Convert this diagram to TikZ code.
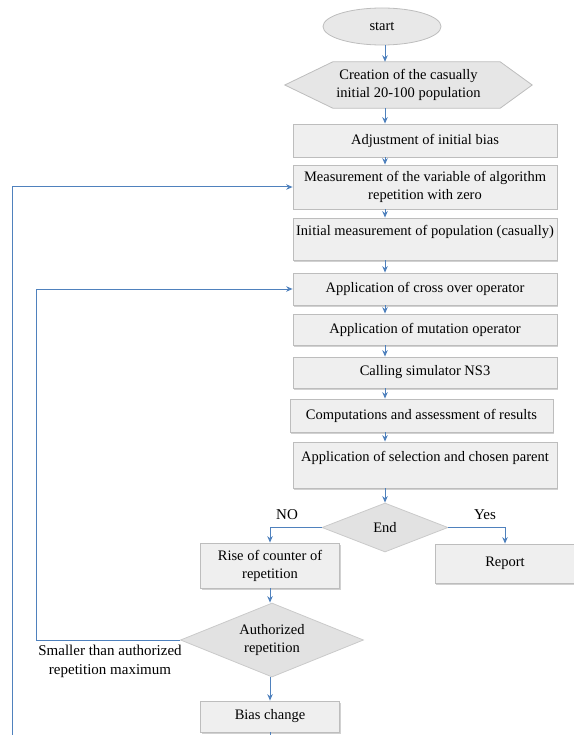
\documentclass[tikz,border=0pt]{standalone}
\usepackage{fontspec}
\setmainfont{Liberation Serif}
\usetikzlibrary{shapes.geometric,arrows.meta,shadows,backgrounds}
\definecolor{flowblue}{HTML}{4F81BD}
\definecolor{boxfill}{HTML}{EFEFEF}
\definecolor{boxline}{HTML}{BDBDBD}
\definecolor{dmfill}{HTML}{E2E2E2}
\tikzset{
  txt/.style={font=\fontsize{14.5}{18}\selectfont, align=center, text=black},
  stepbox/.style={txt, rectangle, draw=boxline, fill=boxfill, line width=0.8pt, inner sep=0pt,
    drop shadow={shadow xshift=1.2pt, shadow yshift=-1.5pt, fill=black!30, opacity=0.6}},
  decision/.style={txt, diamond, draw=boxline!80, fill=dmfill, line width=0.8pt, inner sep=0pt, aspect=2.5},
  flow/.style={draw=flowblue, line width=1pt, -{Stealth[length=6.5pt,width=5.5pt]}},
  plainflow/.style={draw=flowblue, line width=1pt},
  lbl/.style={font=\fontsize{15}{19}\selectfont, align=center, text=black}
}
\begin{document}
\begin{tikzpicture}[x=1pt,y=-1pt]
\useasboundingbox (0,0) rectangle (573,735);
% column axes
\coordinate (ax) at (385,0);
\coordinate (bx) at (270,0);
% nodes
\node[txt, ellipse, draw=boxline, fill=dmfill!80!white, line width=0.8pt, minimum width=118pt, minimum height=37pt, inner sep=0pt] (start) at (382,26.5) {start};
\node[txt, minimum width=247pt, minimum height=46pt, inner sep=0pt] (hex) at (408.5,85) {Creation of the casually\\initial 20-100 population};
\node[stepbox, minimum width=264pt, minimum height=33pt] (adj) at (425,140.5) {Adjustment of initial bias};
\node[stepbox, minimum width=264pt, minimum height=44pt] (meas) at (425,187) {Measurement of the variable of algorithm\\repetition with zero};
\node[stepbox, minimum width=264pt, minimum height=42pt] (init) at (425,239) {Initial measurement of population (casually)\\\mbox{}};
\node[stepbox, minimum width=264pt, minimum height=32pt] (cross) at (425,289) {Application of cross over operator};
\node[stepbox, minimum width=264pt, minimum height=31pt] (mut) at (425,329.5) {Application of mutation operator};
\node[stepbox, minimum width=264pt, minimum height=31pt] (call) at (425,372.5) {Calling simulator NS3};
\node[stepbox, minimum width=263pt, minimum height=33pt] (comp) at (421.5,415.5) {Computations and assessment of results};
\node[stepbox, minimum width=264pt, minimum height=46pt] (sel) at (425,465) {Application of selection and chosen parent\\\mbox{}};
\node[decision, minimum width=126pt, minimum height=49pt] (end) at (385,527.5) {End};
\node[stepbox, minimum width=139pt, minimum height=45pt] (rise) at (270,565.5) {Rise of counter of\\repetition};
\node[stepbox, minimum width=140pt, minimum height=39pt] (report) at (505,563.5) {\raisebox{3.5pt}{Report}};
\node[decision, minimum width=183pt, minimum height=74pt] (auth) at (272,640) {Authorized\\repetition};
\node[stepbox, minimum width=139pt, minimum height=31pt] (bias) at (270,716.5) {Bias change};
% labels
\node[lbl] (nolbl) at (287,515) {NO};
\node[lbl] (yeslbl) at (485,515) {Yes};
\node[lbl] (smallerlbl) at (110,661) {Smaller than authorized\\repetition maximum};
% hexagon outline
\begin{scope}[on background layer]
\filldraw[draw=boxline, fill=dmfill!85!white, line width=0.8pt]
  (hex.west) -- ([xshift=48pt]hex.north west) -- ([xshift=-32pt]hex.north east) -- (hex.east)
  -- ([xshift=-32pt]hex.south east) -- ([xshift=48pt]hex.south west) -- cycle;
\end{scope}
% coordinates for loops
\coordinate (la) at (36,640);
\coordinate (lb) at (12,735);
\coordinate (bb) at (270,735);
% connectors
\draw[flow] (start.south -| ax) -- (hex.north -| ax);
\draw[flow] (hex.south -| ax) -- (adj.north -| ax);
\draw[flow] (adj.south -| ax) -- (meas.north -| ax);
\draw[flow] (meas.south -| ax) -- (init.north -| ax);
\draw[flow] (init.south -| ax) -- (cross.north -| ax);
\draw[flow] (cross.south -| ax) -- (mut.north -| ax);
\draw[flow] (mut.south -| ax) -- (call.north -| ax);
\draw[flow] (call.south -| ax) -- (comp.north -| ax);
\draw[flow] (comp.south -| ax) -- (sel.north -| ax);
\draw[flow] (sel.south -| ax) -- (end.north);
\draw[flow] (end.west) -| (rise.north);
\draw[flow] (end.east) -| (report.north);
\draw[flow] (rise.south -| bx) -- (auth.north -| bx);
\draw[flow] (auth.south -| bx) -- (bias.north -| bx);
\draw[flow] (auth.west) -- (la) |- (cross.west);
\draw[plainflow] (bias.south -| bx) -- (bb);
\draw[flow] (lb) |- (meas.west);
\end{tikzpicture}
\end{document}
